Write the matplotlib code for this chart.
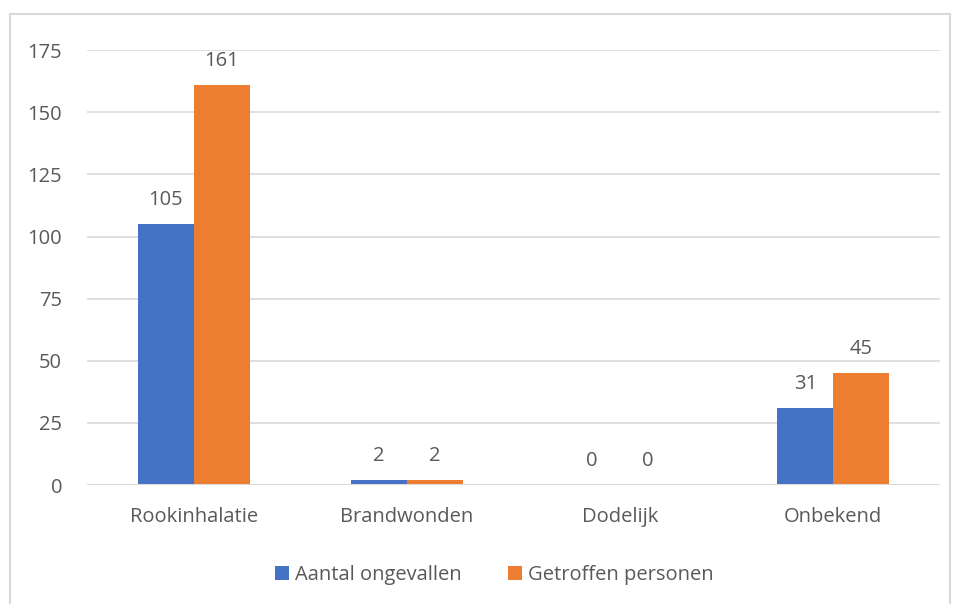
"""Ongevallen per categorie."""
import numpy as np
import matplotlib.pyplot as plt
from matplotlib.patches import Rectangle

categories = ["Rookinhalatie", "Brandwonden", "Dodelijk", "Onbekend"]
ongevallen = [105, 2, 0, 31]
personen = [161, 2, 0, 45]
yticks = [0, 25, 50, 75, 100, 125, 150, 175]

BLUE = "#4472C4"
ORANGE = "#ED7D31"
TEXT = "#595959"
GRID = "#D9D9D9"
FS = 14.5


def main():
    plt.rcParams["font.family"] = ["Open Sans", "DejaVu Sans"]
    dpi = 100
    fig = plt.figure(dpi=dpi, figsize=(954 / dpi, 604 / dpi))
    ax = fig.add_axes([0.0912, 0.197, 0.894, 0.72])

    # rand rond de grafiek
    fig.patches.append(Rectangle((10 / 954, -0.05), 940 / 954, 1.05 - 14 / 604,
                                 transform=fig.transFigure, fill=False,
                                 edgecolor=GRID, linewidth=1.5))

    x = np.arange(len(categories))
    w = 0.263
    b1 = ax.bar(x - w / 2, ongevallen, width=w, color=BLUE,
                label="Aantal ongevallen", zorder=2)
    b2 = ax.bar(x + w / 2, personen, width=w, color=ORANGE,
                label="Getroffen personen", zorder=2)
    for bars in (b1, b2):
        ax.bar_label(bars, padding=10, fontsize=FS, color=TEXT)

    ax.set_xlim(-0.5, len(categories) - 0.5)
    ax.set_ylim(0, 175)
    ax.set_yticks(yticks)
    ax.set_xticks(x, categories)
    ax.yaxis.grid(True, color=GRID, linewidth=1.2, zorder=0)
    for s in ax.spines.values():
        s.set_visible(False)
    ax.axhline(0, color=GRID, linewidth=1.5, zorder=3)
    ax.tick_params(length=0, labelsize=FS, labelcolor=TEXT)
    ax.tick_params(axis="y", pad=18)
    ax.tick_params(axis="x", pad=16)

    fig.legend(handles=[b1, b2], loc="center", bbox_to_anchor=(0.518, 0.048),
               ncol=2, frameon=False, fontsize=FS, labelcolor=TEXT,
               handlelength=0.7, handleheight=0.7, handletextpad=0.3,
               columnspacing=2.3)

    fig.savefig("out.png", dpi=dpi)


if __name__ == "__main__":
    main()
